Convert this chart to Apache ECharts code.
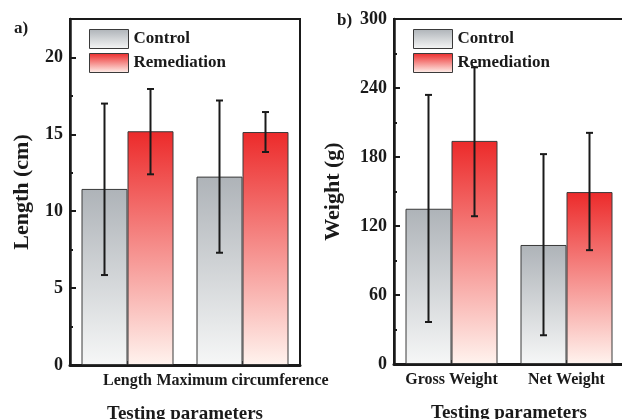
<!DOCTYPE html>
<html>
<head>
<meta charset="utf-8">
<script src="https://cdn.jsdelivr.net/npm/echarts@6/dist/echarts.min.js"></script>
<style>
  html, body { margin: 0; padding: 0; background: #fff; }
  #main { width: 622px; height: 419px; }
</style>
</head>
<body>
<div id="main"></div>
<script>
// panel a) length
const catsA = ['Length', 'Maximum circumference'];
const controlA = [11.45, 12.25];
const controlErrA = [[5.85, 17.0], [7.3, 17.2]];
const remedA = [15.2, 15.15];
const remedErrA = [[12.4, 17.95], [13.85, 16.45]];

// panel b) weight
const catsB = ['Gross Weight', 'Net Weight'];
const controlB = [135, 103.5];
const controlErrB = [[36.5, 234], [25, 182.5]];
const remedB = [194, 149.5];
const remedErrB = [[128.5, 258], [99, 201]];

const yTicksA = [0, 5, 10, 15, 20];
const yTicksB = [0, 60, 120, 180, 240, 300];

const font = 'Liberation Serif';
const grayGrad = new echarts.graphic.LinearGradient(0, 0, 0, 1, [
  { offset: 0, color: '#aeb3b8' }, { offset: 1, color: '#f6f7f7' }
]);
const redGrad = new echarts.graphic.LinearGradient(0, 0, 0, 1, [
  { offset: 0, color: '#ec2a2a' }, { offset: 1, color: '#fff3ee' }
]);

function errBars(data, side, axisIdx) {
  return {
    type: 'custom',
    xAxisIndex: axisIdx,
    yAxisIndex: axisIdx,
    silent: true,
    z: 5,
    data: data.map((d, i) => [i, d[0], d[1]]),
    renderItem: function (params, api) {
      const band = api.size([1, 0])[0];
      const off = band * 0.2 * side;
      const lo = api.coord([api.value(0), api.value(1)]);
      const hi = api.coord([api.value(0), api.value(2)]);
      const x = lo[0] + off;
      const cap = 3.5;
      const st = { stroke: '#1a1a1a', lineWidth: 2 };
      return {
        type: 'group',
        children: [
          { type: 'line', shape: { x1: x, y1: lo[1], x2: x, y2: hi[1] }, style: st },
          { type: 'line', shape: { x1: x - cap, y1: lo[1], x2: x + cap, y2: lo[1] }, style: st },
          { type: 'line', shape: { x1: x - cap, y1: hi[1], x2: x + cap, y2: hi[1] }, style: st }
        ]
      };
    }
  };
}

function barSeries(name, data, grad, idx) {
  return {
    name: name,
    type: 'bar',
    xAxisIndex: idx,
    yAxisIndex: idx,
    data: data,
    barWidth: '40%',
    barGap: '0%',
    itemStyle: { color: grad, borderColor: '#3a3a3a', borderWidth: 1 }
  };
}

function xAxisOf(cats, idx) {
  return {
    type: 'category',
    gridIndex: idx,
    data: cats,
    name: 'Testing parameters',
    nameLocation: 'middle',
    nameGap: 40,
    nameTextStyle: { fontFamily: font, fontWeight: 'bold', fontSize: 19, color: '#1a1a1a' },
    axisLine: { lineStyle: { color: '#1a1a1a', width: 3 } },
    axisTick: { show: true, inside: true, alignWithLabel: true, length: 4, lineStyle: { color: '#1a1a1a', width: 2 } },
    axisLabel: { fontFamily: font, fontWeight: 'bold', fontSize: 16, color: '#1a1a1a', margin: 8, interval: 0 }
  };
}

function yAxisOf(name, max, interval, ticks, idx, gap) {
  return {
    type: 'value',
    gridIndex: idx,
    min: 0,
    max: max,
    interval: interval,
    name: name,
    nameLocation: 'middle',
    nameGap: gap,
    nameTextStyle: { fontFamily: font, fontWeight: 'bold', fontSize: 22, color: '#1a1a1a' },
    axisLine: { show: true, lineStyle: { color: '#1a1a1a', width: 2.5 } },
    axisTick: { show: true, inside: true, length: 6, lineStyle: { color: '#1a1a1a', width: 2 } },
    minorTick: { show: true, splitNumber: 2, length: 3, lineStyle: { color: '#1a1a1a', width: 2 } },
    splitLine: { show: false },
    axisLabel: {
      fontFamily: font, fontWeight: 'bold', fontSize: 18, color: '#1a1a1a', margin: 7,
      formatter: v => (ticks.indexOf(v) >= 0 ? String(v) : '')
    }
  };
}

function legendOf(left) {
  return {
    left: left,
    top: 24,
    orient: 'vertical',
    itemWidth: 39,
    itemHeight: 19,
    itemGap: 4,
    icon: 'rect',
    data: ['Control', 'Remediation'],
    textStyle: { fontFamily: font, fontWeight: 'bold', fontSize: 17, color: '#1a1a1a' },
    itemStyle: { borderColor: '#3a3a3a', borderWidth: 1 }
  };
}

const chart = echarts.init(document.getElementById('main'));
chart.setOption({
  animation: false,
  grid: [
    { left: 70, top: 19, right: 322, bottom: 54, outerBoundsMode: 'none', containLabel: false,
      show: true, borderColor: '#1a1a1a', borderWidth: 2 },
    { left: 394, top: 19, right: -2, bottom: 55, outerBoundsMode: 'none', containLabel: false,
      show: true, borderColor: '#1a1a1a', borderWidth: 2 }
  ],
  legend: [legendOf(84), legendOf(408)],
  xAxis: [xAxisOf(catsA, 0), xAxisOf(catsB, 1)],
  yAxis: [
    yAxisOf('Length (cm)', 22.5, 5, yTicksA, 0, 37),
    yAxisOf('Weight (g)', 300, 60, yTicksB, 1, 50)
  ],
  graphic: [
    { type: 'text', left: 14, top: 20, style: { text: 'a)', font: 'bold 17px "Liberation Serif"', fill: '#1a1a1a' } },
    { type: 'text', left: 337, top: 12, style: { text: 'b)', font: 'bold 17px "Liberation Serif"', fill: '#1a1a1a' } }
  ],
  series: [
    barSeries('Control', controlA, grayGrad, 0),
    barSeries('Remediation', remedA, redGrad, 0),
    barSeries('Control', controlB, grayGrad, 1),
    barSeries('Remediation', remedB, redGrad, 1),
    errBars(controlErrA, -1, 0),
    errBars(remedErrA, 1, 0),
    errBars(controlErrB, -1, 1),
    errBars(remedErrB, 1, 1)
  ]
});
</script>
</body>
</html>
